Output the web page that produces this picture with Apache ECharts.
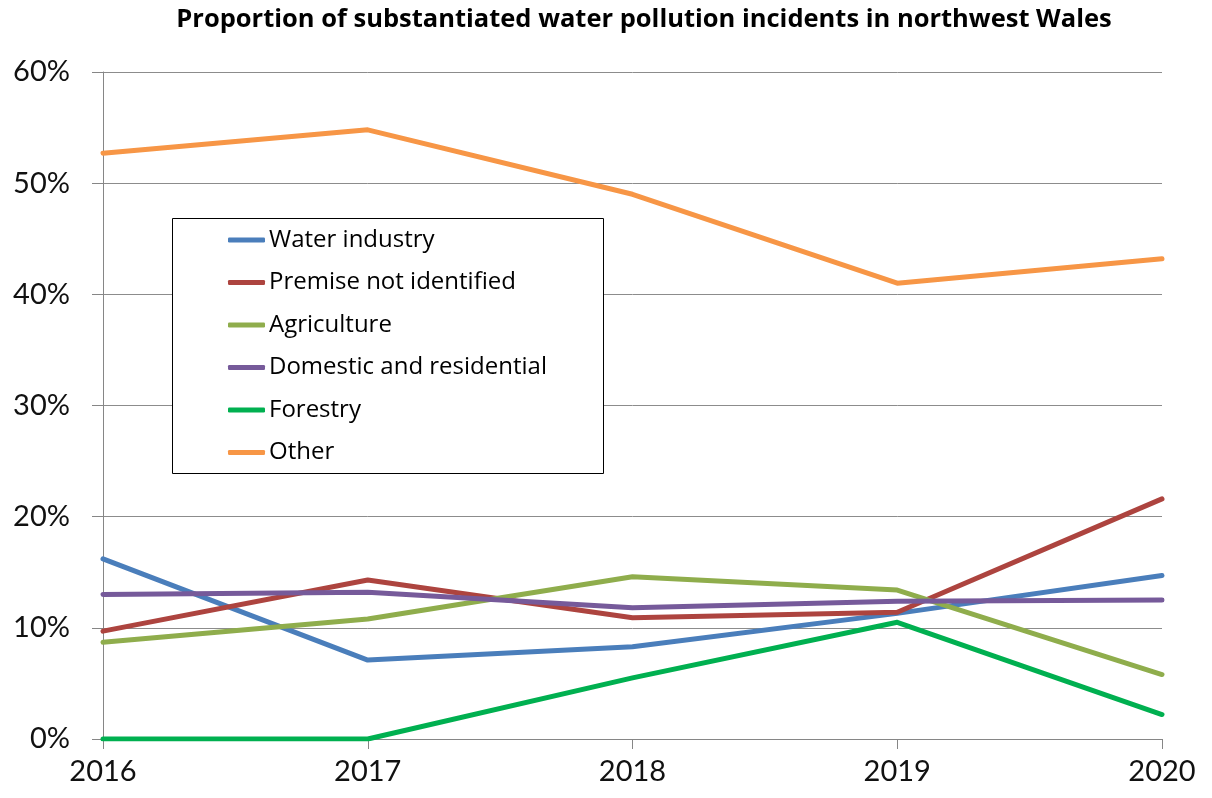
<!DOCTYPE html>
<html>
<head>
<meta charset="utf-8">
<script src="https://cdn.jsdelivr.net/npm/echarts@6/dist/echarts.min.js"></script>
<style>html,body{margin:0;padding:0;background:#fff;}#c{width:1212px;height:798px;}</style>
</head>
<body>
<div id="c"></div>
<script>
const years = ['2016', '2017', '2018', '2019', '2020'];
const seriesNames = ['Water industry', 'Premise not identified', 'Agriculture', 'Domestic and residential', 'Forestry', 'Other'];
const waterIndustry = [16.2, 7.1, 8.3, 11.3, 14.7];
const premiseNotIdentified = [9.7, 14.3, 10.9, 11.4, 21.6];
const agriculture = [8.7, 10.8, 14.6, 13.4, 5.8];
const domestic = [13.0, 13.2, 11.8, 12.4, 12.5];
const forestry = [0, 0, 5.5, 10.5, 2.2];
const other = [52.7, 54.8, 49.0, 41.0, 43.2];
const colors = ['#4A7EBB', '#AD443F', '#8FAD4C', '#765A9A', '#00B050', '#F79646'];
const allValues = [waterIndustry, premiseNotIdentified, agriculture, domestic, forestry, other];

const FONT = 'Lato, "Open Sans", sans-serif';
const FONT2 = '"Open Sans", Lato, sans-serif';
const chart = echarts.init(document.getElementById('c'));
chart.setOption({
  animation: false,
  backgroundColor: '#fff',
  title: {
    text: 'Proportion of substantiated water pollution incidents in northwest Wales',
    left: 639, textAlign: 'center', top: 2,
    textStyle: { fontFamily: FONT2, fontWeight: 'bold', fontSize: 25.5, color: '#000' }
  },
  grid: { left: 103, right: 50, top: 72, bottom: 59 },
  xAxis: {
    type: 'category', data: years, boundaryGap: false,
    axisLine: { lineStyle: { color: '#868686', width: 1 } },
    axisTick: { show: true, length: 10, lineStyle: { color: '#868686' } },
    axisLabel: { fontFamily: FONT, fontSize: 29, color: '#111', margin: 18 }
  },
  yAxis: {
    type: 'value', min: 0, max: 60, interval: 10,
    axisLine: { show: true, lineStyle: { color: '#868686', width: 1 } },
    axisTick: { show: true, length: 11, lineStyle: { color: '#868686' } },
    splitLine: { lineStyle: { color: '#8c8c8c', width: 1 } },
    axisLabel: { fontFamily: FONT, fontSize: 29, color: '#111', margin: 33, formatter: '{value}%' }
  },
  graphic: [{
    type: 'rect', z: 5,
    shape: { x: 172.5, y: 218.5, width: 431, height: 255 },
    style: { fill: '#fff', stroke: '#000', lineWidth: 1 }
  }],
  legend: {
    orient: 'vertical', left: 228, top: 228, z: 10,
    itemWidth: 37, itemHeight: 5, icon: 'roundRect', itemGap: 18.5,
    padding: 0,
    textStyle: { fontFamily: FONT2, fontSize: 24, color: '#000', lineHeight: 24, padding: [0, 0, 0, -1] },
    data: seriesNames
  },
  series: seriesNames.map((n, i) => ({
    name: n, type: 'line', data: allValues[i],
    symbol: 'none', color: colors[i],
    lineStyle: { width: 5, color: colors[i], cap: 'round', join: 'round' },
    itemStyle: { color: colors[i] }
  }))
});
</script>
</body>
</html>
